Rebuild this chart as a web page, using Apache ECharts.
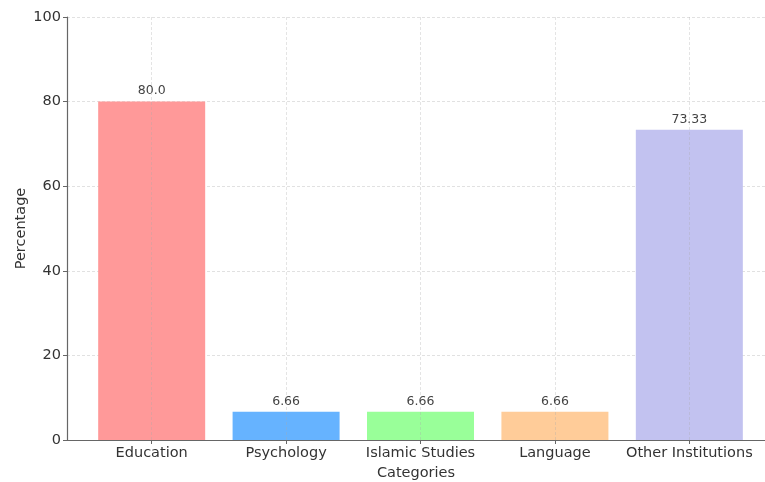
<!DOCTYPE html>
<html>
<head>
<meta charset="utf-8">
<script src="https://cdn.jsdelivr.net/npm/echarts@6/dist/echarts.min.js"></script>
<style>
  html, body { margin: 0; padding: 0; background: #fff; }
  #chart { width: 765px; height: 482px; }
</style>
</head>
<body>
<div id="chart"></div>
<script>
const categories = ['Education', 'Psychology', 'Islamic Studies', 'Language', 'Other Institutions'];
const percentages = [80.0, 6.66, 6.66, 6.66, 73.33];
const barColors = ['#ff9999', '#66b3ff', '#99ff99', '#ffcc99', '#c2c2f0'];
const yTicks = [0, 20, 40, 60, 80, 100];

const positions = categories.map((c, i) => i);
const font = 'DejaVu Sans';

const chart = echarts.init(document.getElementById('chart'));
chart.setOption({
  animation: false,
  textStyle: { fontFamily: font },
  grid: { left: 67, right: 0, top: 17, bottom: 42, outerBoundsMode: 'none' },
  xAxis: {
    type: 'value',
    min: -0.63,
    max: 4.563,
    name: 'Categories',
    nameLocation: 'middle',
    nameGap: 26,
    nameMoveOverlap: false,
    nameTextStyle: { color: '#333', fontSize: 14.5, fontFamily: font },
    axisLine: { show: true, onZero: false, lineStyle: { color: '#666', width: 1.2 } },
    axisTick: { show: true, customValues: positions, length: 4, lineStyle: { color: '#666' } },
    axisLabel: {
      customValues: positions,
      color: '#333',
      fontSize: 14.5,
      margin: 6,
      formatter: v => categories[Math.round(v)]
    },
    splitLine: { show: false }
  },
  yAxis: {
    type: 'value',
    min: yTicks[0],
    max: yTicks[yTicks.length - 1],
    interval: 20,
    name: 'Percentage',
    nameLocation: 'middle',
    nameGap: 38,
    nameMoveOverlap: false,
    nameTextStyle: { color: '#333', fontSize: 14.5, fontFamily: font },
    axisLine: { show: true, onZero: false, lineStyle: { color: '#666', width: 1.2 } },
    axisTick: { show: true, length: 4, lineStyle: { color: '#666' } },
    axisLabel: { color: '#333', fontSize: 14.5, margin: 6 },
    splitLine: { show: true, lineStyle: { color: '#d9d9d9', type: [3, 2], width: 0.8 } }
  },
  series: [{
    type: 'bar',
    barWidth: 107,
    data: percentages.map((v, i) => ({
      value: [i, v],
      itemStyle: { color: barColors[i] }
    })),
    label: {
      show: true,
      position: 'top',
      distance: 4,
      color: '#444',
      fontSize: 12.5,
      fontFamily: font,
      formatter: p => {
        const v = p.value[1];
        return Number.isInteger(v) ? v.toFixed(1) : String(v);
      }
    },
    markLine: {
      silent: true,
      symbol: 'none',
      label: { show: false },
      z: 5,
      lineStyle: { color: 'rgba(170,170,170,0.4)', type: [3, 2], width: 0.8 },
      data: positions.map(p => ({ xAxis: p }))
    }
  }]
});
</script>
</body>
</html>
